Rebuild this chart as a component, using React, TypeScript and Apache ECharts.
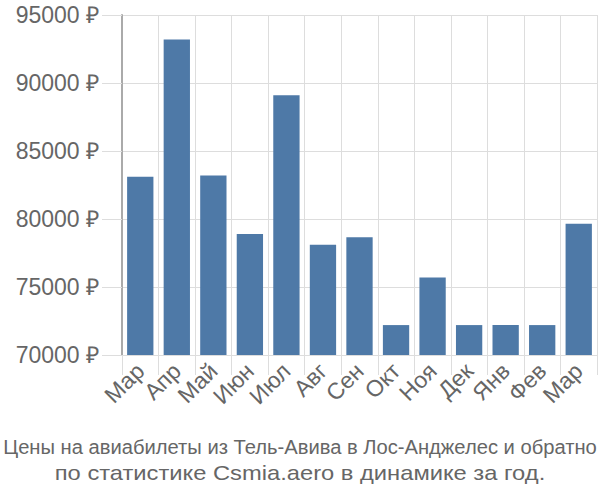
import React, { useEffect, useRef } from "react";
import * as echarts from "echarts";

const categories = ["Мар", "Апр", "Май", "Июн", "Июл", "Авг", "Сен", "Окт", "Ноя", "Дек", "Янв", "Фев", "Мар"];
const prices = [83100, 93200, 83200, 78900, 89100, 78100, 78650, 72200, 75700, 72200, 72200, 72200, 79650];
const titleLines = [
  "Цены на авиабилеты из Тель-Авива в Лос-Анджелес и обратно",
  "по статистике Csmia.aero в динамике за год.",
];

export default function App() {
  const ref = useRef<HTMLDivElement>(null);
  useEffect(() => {
    document.body.style.margin = "0";
    if (!ref.current) return;
    const fontSize = 21;
    const fontFamily = "Liberation Sans";
    const targetWidths = [594, 491];
    const scales = [0.85, 1.1];
    try {
      const ctx = document.createElement("canvas").getContext("2d");
      if (ctx) {
        ctx.font = `${fontSize}px "${fontFamily}"`;
        titleLines.forEach((line, i) => {
          const w = ctx.measureText(line).width;
          if (w > 0) scales[i] = Math.min(1.3, targetWidths[i] / w);
        });
      }
    } catch (e) {}
    const chart = echarts.init(ref.current, undefined, { renderer: "svg" });
    chart.setOption({
      animation: false,
      graphic: titleLines.map((line, i) => ({
        type: "text",
        x: 300,
        y: 457 + i * 26,
        scaleX: scales[i],
        scaleY: 1,
        style: {
          text: line,
          fontSize,
          fontFamily,
          fill: "#666",
          align: "center",
          verticalAlign: "bottom",
        },
      })),
      grid: { left: 122, right: 3, top: 15, bottom: 145, containLabel: false },
      xAxis: {
        type: "category",
        data: categories,
        boundaryGap: true,
        axisLine: { lineStyle: { color: "#ddd" } },
        axisTick: { show: true, length: 20, lineStyle: { color: "#ddd" } },
        splitLine: { show: true, lineStyle: { color: "#ddd" } },
        axisLabel: {
          rotate: 45,
          interval: 0,
          margin: 12,
          fontSize: 23,
          color: "#666",
          fontFamily: "Liberation Sans",
        },
      },
      yAxis: {
        type: "value",
        min: 70000,
        max: 95000,
        interval: 5000,
        axisLine: { show: true, lineStyle: { color: "#aaa", width: 2 } },
        axisTick: { show: true, length: 20, lineStyle: { color: "#ddd" } },
        splitLine: { show: true, lineStyle: { color: "#ddd" } },
        axisLabel: {
          formatter: (v: number) => v + " ₽",
          margin: 23,
          fontSize: 23,
          color: "#666",
          fontFamily: "Liberation Sans",
        },
      },
      series: [
        {
          type: "bar",
          data: prices,
          barCategoryGap: "28%",
          itemStyle: { color: "#4e79a7" },
        },
      ],
    });
    return () => chart.dispose();
  }, []);
  return <div ref={ref} style={{ width: 600, height: 500 }} />;
}
